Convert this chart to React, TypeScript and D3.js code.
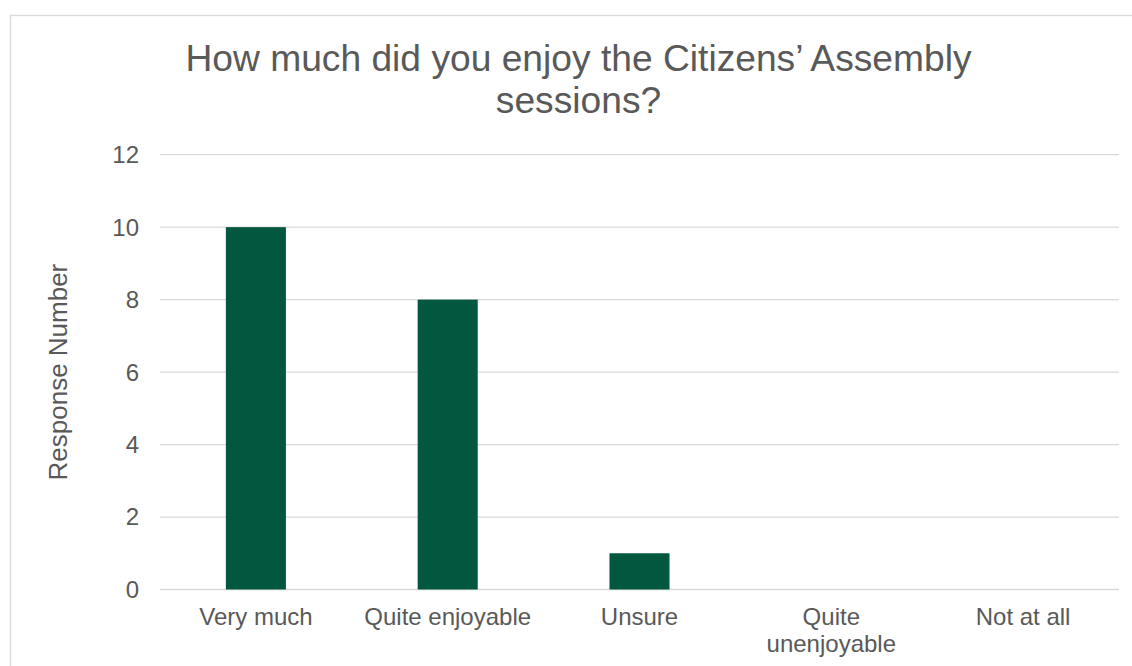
import React from "react";
import * as d3 from "d3";

const categories = ["Very much", "Quite enjoyable", "Unsure", "Quite unenjoyable", "Not at all"];
const categoryLines = [["Very much"], ["Quite enjoyable"], ["Unsure"], ["Quite", "unenjoyable"], ["Not at all"]];
const values = [10, 8, 1, 0, 0];
const yTicks = [0, 2, 4, 6, 8, 10, 12];
const titleLines = ["How much did you enjoy the Citizens\u2019 Assembly", "sessions?"];
const yAxisTitle = "Response Number";

const W = 1132;
const H = 666;
const plot = { left: 160, right: 1119, top: 154.7, bottom: 589.5 };
const textColor = "#595959";
const gridColor = "#d9d9d9";
const barColor = "#02573f";
const font = "'Liberation Sans', Arial, sans-serif";

export default function App() {
  const x = d3.scaleBand<string>().domain(categories).range([plot.left, plot.right]).padding(0);
  const y = d3.scaleLinear().domain([0, 12]).range([plot.bottom, plot.top]);
  const barW = x.bandwidth() * 0.313;

  return (
    <svg width={W} height={H} style={{ position: "absolute", left: 0, top: 0, background: "#fff" }} fontFamily={font}>
      <rect x={10.5} y={15.5} width={W + 20} height={H + 20} fill="#fff" stroke={gridColor} strokeWidth={1.3} />
      {titleLines.map((t, i) => (
        <text key={i} x={578.5} y={70.5 + i * 42} textAnchor="middle" fontSize={37.2} fill={textColor}>
          {t}
        </text>
      ))}
      {yTicks.map((t) => (
        <g key={t}>
          <line x1={plot.left} x2={plot.right} y1={y(t)} y2={y(t)} stroke={gridColor} strokeWidth={1.3} />
          <text x={139} y={y(t)} dy="0.35em" textAnchor="end" fontSize={24} fill={textColor}>
            {t}
          </text>
        </g>
      ))}
      {categories.map((c, i) => {
        const cx = (x(c) as number) + x.bandwidth() / 2;
        return (
          <g key={c}>
            {values[i] > 0 && (
              <rect x={cx - barW / 2} y={y(values[i])} width={barW} height={y(0) - y(values[i])} fill={barColor} />
            )}
            {categoryLines[i].map((l, j) => (
              <text key={j} x={cx} y={625 + j * 27} textAnchor="middle" fontSize={24} fill={textColor}>
                {l}
              </text>
            ))}
          </g>
        );
      })}
      <text
        transform={`translate(66.5, ${(plot.top + plot.bottom) / 2}) rotate(-90)`}
        textAnchor="middle"
        fontSize={26}
        fill={textColor}
      >
        {yAxisTitle}
      </text>
    </svg>
  );
}
